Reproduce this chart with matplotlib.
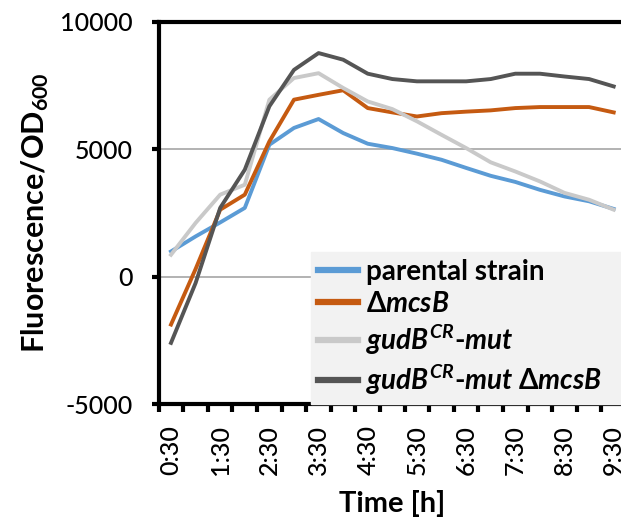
import numpy as np
import matplotlib
matplotlib.use('Agg')
import matplotlib.pyplot as plt

plt.rcParams['font.family'] = ['Lato', 'DejaVu Sans']
plt.rcParams['axes.unicode_minus'] = False
plt.rcParams['mathtext.fontset'] = 'custom'
plt.rcParams['mathtext.rm'] = 'Lato:bold'
plt.rcParams['mathtext.bf'] = 'Lato:bold'
plt.rcParams['mathtext.it'] = 'Lato:italic:bold'

# time points, every 30 min
times = ['0:30', '1:00', '1:30', '2:00', '2:30', '3:00', '3:30', '4:00', '4:30', '5:00',
         '5:30', '6:00', '6:30', '7:00', '7:30', '8:00', '8:30', '9:00', '9:30']

parental = [990, 1580, 2130, 2700, 5180, 5840, 6190, 5640, 5220, 5050,
            4830, 4590, 4270, 3960, 3720, 3410, 3150, 2960, 2660]
mcsB = [-1880, 300, 2630, 3220, 5310, 6950, 7140, 7320, 6620, 6450,
        6290, 6420, 6480, 6530, 6620, 6660, 6660, 6660, 6450]
gudB = [860, 2110, 3220, 3610, 6950, 7800, 7990, 7410, 6880, 6580,
        6100, 5570, 5050, 4490, 4130, 3740, 3290, 3020, 2630]
gudB_mcsB = [-2600, -250, 2700, 4200, 6690, 8120, 8780, 8520, 7970, 7760,
             7670, 7670, 7670, 7760, 7970, 7970, 7860, 7760, 7470]

labels = ['parental strain',
          r'Δ$\mathit{mcsB}$',
          r'$\mathit{gudB^{CR}}$-$\mathit{mut}$',
          r'$\mathit{gudB^{CR}}$-$\mathit{mut}$ Δ$\mathit{mcsB}$']
colors = ['#5b9bd5', '#c55a11', '#c9c9c9', '#555555']

W, H = 621, 524
fig = plt.figure(figsize=(W / 100, H / 100), dpi=100)
ax = fig.add_axes([158.7 / W, 120 / H, 467.3 / W, 382 / H])

x = np.arange(len(times))
for ys, c, lab in zip([parental, mcsB, gudB, gudB_mcsB], colors, labels):
    ax.plot(x, ys, color=c, lw=2.8, label=lab, solid_joinstyle='round')

ax.set_xlim(-0.5, len(times) - 0.5)
ax.set_ylim(-5000, 10000)
ax.set_yticks([-5000, 0, 5000, 10000])
ax.set_xticks(x[::2])
ax.set_xticklabels(times[::2], rotation=90)
ax.set_xticks(np.arange(-0.5, len(times), 1), minor=True)

ax.tick_params(axis='x', which='major', length=0, pad=15, labelsize=18)
ax.tick_params(axis='x', which='minor', length=6, width=3, direction='out')
ax.tick_params(axis='y', length=5, width=3, pad=14, labelsize=18)
for t in ax.get_xticklabels() + ax.get_yticklabels():
    t.set_fontweight('medium')

for s in ax.spines.values():
    s.set_linewidth(3)
    s.set_color('black')

ax.yaxis.grid(True, color='#a6a6a6', lw=1.2)
ax.set_axisbelow(True)

ax.set_ylabel(r'Fluorescence/OD$_{\mathrm{600}}$', fontsize=22, fontweight='bold', labelpad=6)
ax.set_xlabel('Time [h]', fontsize=21, fontweight='bold', labelpad=11)

leg = ax.legend(loc='lower left', bbox_to_anchor=(0.325, 0.0, 0.75, 0.40), mode='expand',
                borderaxespad=0, fancybox=False, framealpha=1, facecolor='#f2f2f2',
                edgecolor='#f2f2f2', prop={'weight': 'bold', 'size': 20},
                handlelength=1.45, handletextpad=0.3, labelspacing=0.21, borderpad=0.25)
for ln in leg.get_lines():
    ln.set_linewidth(4.5)

fig.savefig('out.png', dpi=100)
